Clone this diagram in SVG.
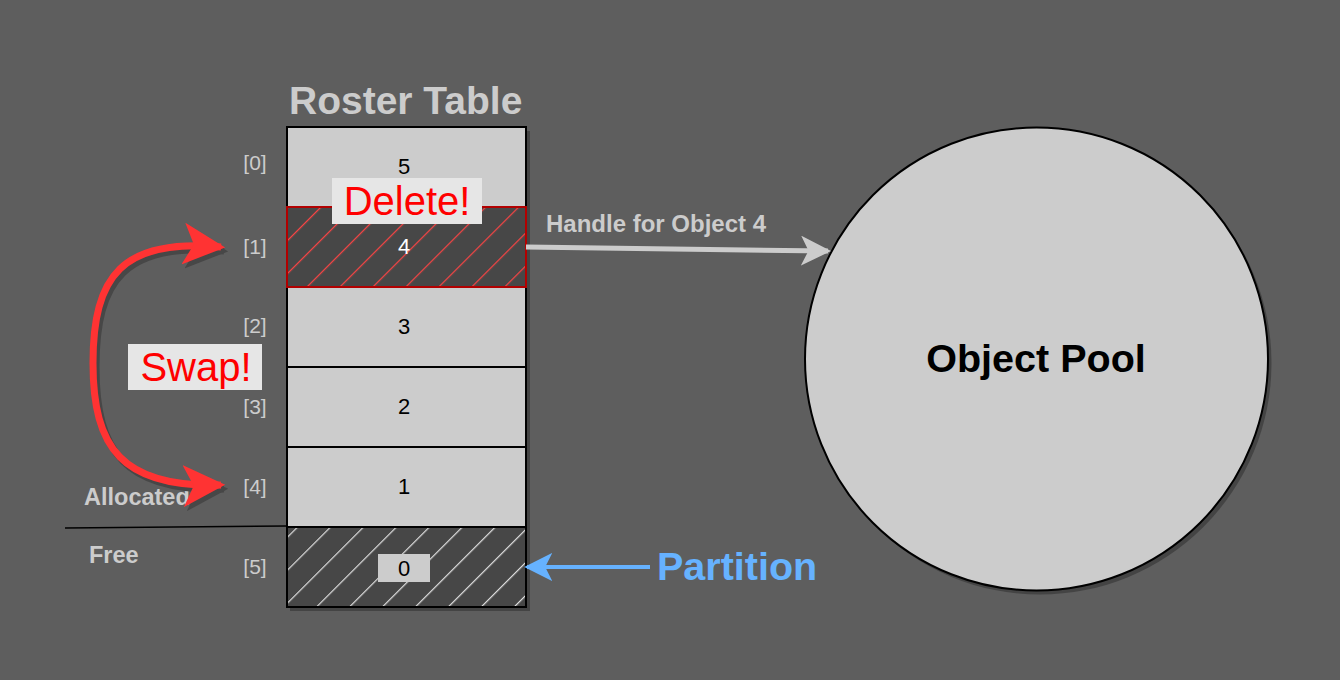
<svg xmlns="http://www.w3.org/2000/svg" width="1340" height="680" viewBox="0 0 1340 680">
<style>
text{font-family:"Liberation Sans",Arial,sans-serif}
.cell{fill:#cccccc;stroke:#000;stroke-width:2}
.num{font-size:22px;fill:#000;text-anchor:middle}
.idx{font-size:21px;fill:#cccccc;text-anchor:middle}
.lbl{font-weight:bold;fill:#cccccc}
.shadow{fill:#444444}
.swap{stroke:#ff3333;stroke-width:7;fill:none;marker-end:url(#arrRed)}
.swapsh{stroke:#474747;stroke-width:7;fill:none;marker-end:url(#arrRedSh)}
</style>
<defs>
<pattern id="hatchRed" patternUnits="userSpaceOnUse" width="23.3" height="10" patternTransform="rotate(45)">
<line x1="0" y1="0" x2="0" y2="10" stroke="#ff4444" stroke-width="2.4"/>
</pattern>
<pattern id="hatchGray" patternUnits="userSpaceOnUse" width="23.3" height="10" patternTransform="rotate(45)">
<line x1="0" y1="0" x2="0" y2="10" stroke="#e0e0e0" stroke-width="2.4"/>
</pattern>
<marker id="arrGray" viewBox="0 0 20 20" refX="18" refY="10" markerWidth="6" markerHeight="6" orient="auto" markerUnits="strokeWidth">
<path d="M0 0 L20 10 L0 20 L5 10 Z" fill="#cccccc"/>
</marker>
<marker id="arrBlue" viewBox="0 0 20 20" refX="18" refY="10" markerWidth="7" markerHeight="7" orient="auto" markerUnits="strokeWidth">
<path d="M0 0 L20 10 L0 20 L5 10 Z" fill="#66b2ff"/>
</marker>
<marker id="arrRed" viewBox="0 0 20 20" refX="18" refY="10" markerWidth="6" markerHeight="6" orient="auto" markerUnits="strokeWidth">
<path d="M0 0 L20 10 L0 20 L5 10 Z" fill="#ff3333"/>
</marker>
<marker id="arrRedSh" viewBox="0 0 20 20" refX="18" refY="10" markerWidth="6" markerHeight="6" orient="auto" markerUnits="strokeWidth">
<path d="M0 0 L20 10 L0 20 L5 10 Z" fill="#474747"/>
</marker>
</defs>
<rect width="1340" height="680" fill="#5e5e5e"/>

<text class="lbl" x="289" y="114" font-size="39">Roster Table</text>

<g id="table">
<rect class="shadow" x="290" y="131" width="240" height="480"/>
<g id="row0"><rect class="cell" x="287" y="127" width="239" height="80"/><text class="num" x="404" y="174">5</text></g>
<g id="row2"><rect class="cell" x="287" y="287" width="239" height="80"/><text class="num" x="404" y="334">3</text></g>
<g id="row3"><rect class="cell" x="287" y="367" width="239" height="80"/><text class="num" x="404" y="414">2</text></g>
<g id="row4"><rect class="cell" x="287" y="447" width="239" height="80"/><text class="num" x="404" y="494">1</text></g>
<g id="row5">
<rect x="287" y="527" width="239" height="80" fill="#474747"/>
<rect x="287" y="527" width="239" height="80" fill="url(#hatchGray)" stroke="#000" stroke-width="2"/>
<rect x="378" y="554" width="52" height="28" fill="#cccccc"/>
<text class="num" x="404" y="576">0</text>
</g>
<g id="row1">
<rect x="287" y="207" width="239" height="80" fill="#474747"/>
<rect x="287" y="207" width="239" height="80" fill="url(#hatchRed)" stroke="#b20000" stroke-width="2"/>
<text class="num" x="404" y="254" style="fill:#ffffff">4</text>
</g>
</g>

<g id="indices">
<text class="idx" x="255" y="170">[0]</text>
<text class="idx" x="255" y="254">[1]</text>
<text class="idx" x="255" y="333">[2]</text>
<text class="idx" x="255" y="414">[3]</text>
<text class="idx" x="255" y="494">[4]</text>
<text class="idx" x="255" y="574">[5]</text>
</g>

<g id="pool">
<circle cx="1040" cy="363" r="231.5" fill="#444444"/>
<circle cx="1036.5" cy="359" r="231.5" fill="#cccccc" stroke="#000" stroke-width="2"/>
<text x="1036" y="372" font-size="39.5" font-weight="bold" text-anchor="middle" fill="#000">Object Pool</text>
</g>

<g id="divider">
<line x1="65" y1="528" x2="287" y2="526" stroke="#000" stroke-width="1.5"/>
<text class="lbl" x="84" y="505" font-size="23.5">Allocated</text>
<text class="lbl" x="89" y="563" font-size="23.5">Free</text>
</g>

<g id="connectors">
<path d="M 526 247 L 828 251" stroke="#cccccc" stroke-width="5" fill="none" marker-end="url(#arrGray)"/>
<path d="M 650 567 L 527 567" stroke="#66b2ff" stroke-width="4" fill="none" marker-end="url(#arrBlue)"/>
<path class="swapsh" d="M 96 367 C 96 280, 125 242, 224 251"/>
<path class="swapsh" d="M 96 367 C 96 452, 125 492, 224 489"/>
<path class="swap" d="M 93 363 C 93 276, 122 238, 221 247"/>
<path class="swap" d="M 93 363 C 93 448, 122 488, 221 485"/>
</g>

<g id="labels">
<text class="lbl" x="546" y="232" font-size="24">Handle for Object 4</text>
<text x="657" y="580" font-size="39.5" font-weight="bold" fill="#66b2ff">Partition</text>
<g id="delete"><rect x="332" y="178" width="150" height="46" fill="#e6e6e6"/><text x="407" y="215" font-size="40" fill="#ff0000" text-anchor="middle">Delete!</text></g>
<g id="swap"><rect x="128" y="344" width="134" height="46" fill="#e6e6e6"/><text x="196" y="381" font-size="40" fill="#ff0000" text-anchor="middle">Swap!</text></g>
</g>
</svg>
